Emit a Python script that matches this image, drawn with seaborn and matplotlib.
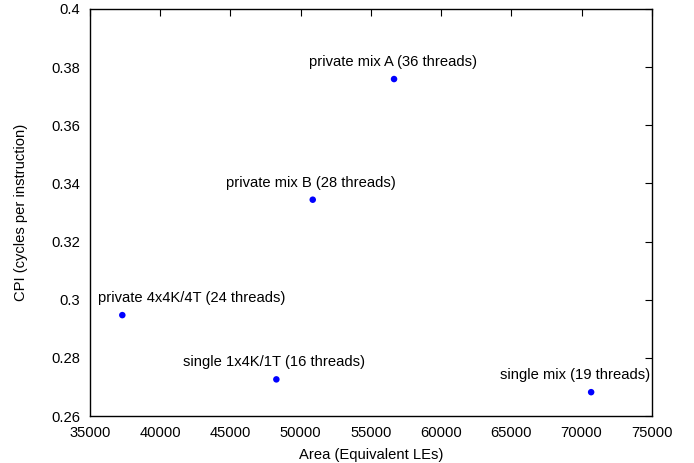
import matplotlib
matplotlib.use("Agg")
import matplotlib.pyplot as plt
import seaborn as sns
import pandas as pd
from matplotlib.ticker import FuncFormatter, MultipleLocator

labels = ["private mix A (36 threads)", "private mix B (28 threads)",
          "private 4x4K/4T (24 threads)", "single 1x4K/1T (16 threads)",
          "single mix (19 threads)"]
area = [56650, 50860, 37300, 48270, 70685]
cpi = [0.3759, 0.3344, 0.2947, 0.2726, 0.2682]
label_x = [56581, 50741, 42265, 48105, 69544]

sns.set_theme(style="white")
plt.rcParams['font.family'] = ['Liberation Sans', 'DejaVu Sans']

df = pd.DataFrame({"area": area, "cpi": cpi, "label": labels})

fig = plt.figure(figsize=(6.94, 4.63), dpi=100)
ax = fig.add_axes([0.1297, 0.1015, 0.9391 - 0.1297, 0.9806 - 0.1015])
sns.scatterplot(data=df, x="area", y="cpi", ax=ax, color="#0000ff",
                s=22, edgecolor="none", linewidth=0, legend=False)

fs = 10.6
for lx, y, t in zip(label_x, cpi, labels):
    ax.annotate(t, xy=(lx, y), xytext=(0, 12.2), textcoords="offset points",
                ha="center", va="center", fontsize=fs, color="black")

ax.set_xlim(35000, 75000)
ax.set_ylim(0.26, 0.4)
ax.xaxis.set_major_locator(MultipleLocator(5000))
ax.yaxis.set_major_locator(MultipleLocator(0.02))
ax.yaxis.set_major_formatter(FuncFormatter(lambda v, p: "%g" % round(v, 4)))
ax.xaxis.set_major_formatter(FuncFormatter(lambda v, p: "%d" % round(v)))

ax.tick_params(direction="in", length=5, width=0.8, top=True, right=True,
               labelsize=fs, colors="black", pad=7)
for sp in ax.spines.values():
    sp.set_visible(True)
    sp.set_color("black")
    sp.set_linewidth(1.0)

ax.set_xlabel("Area (Equivalent LEs)", fontsize=fs, labelpad=6, color="black")
ax.set_ylabel("CPI (cycles per instruction)", fontsize=fs, labelpad=16.5, color="black")
ax.grid(False)

fig.savefig("out.png", dpi=100)
